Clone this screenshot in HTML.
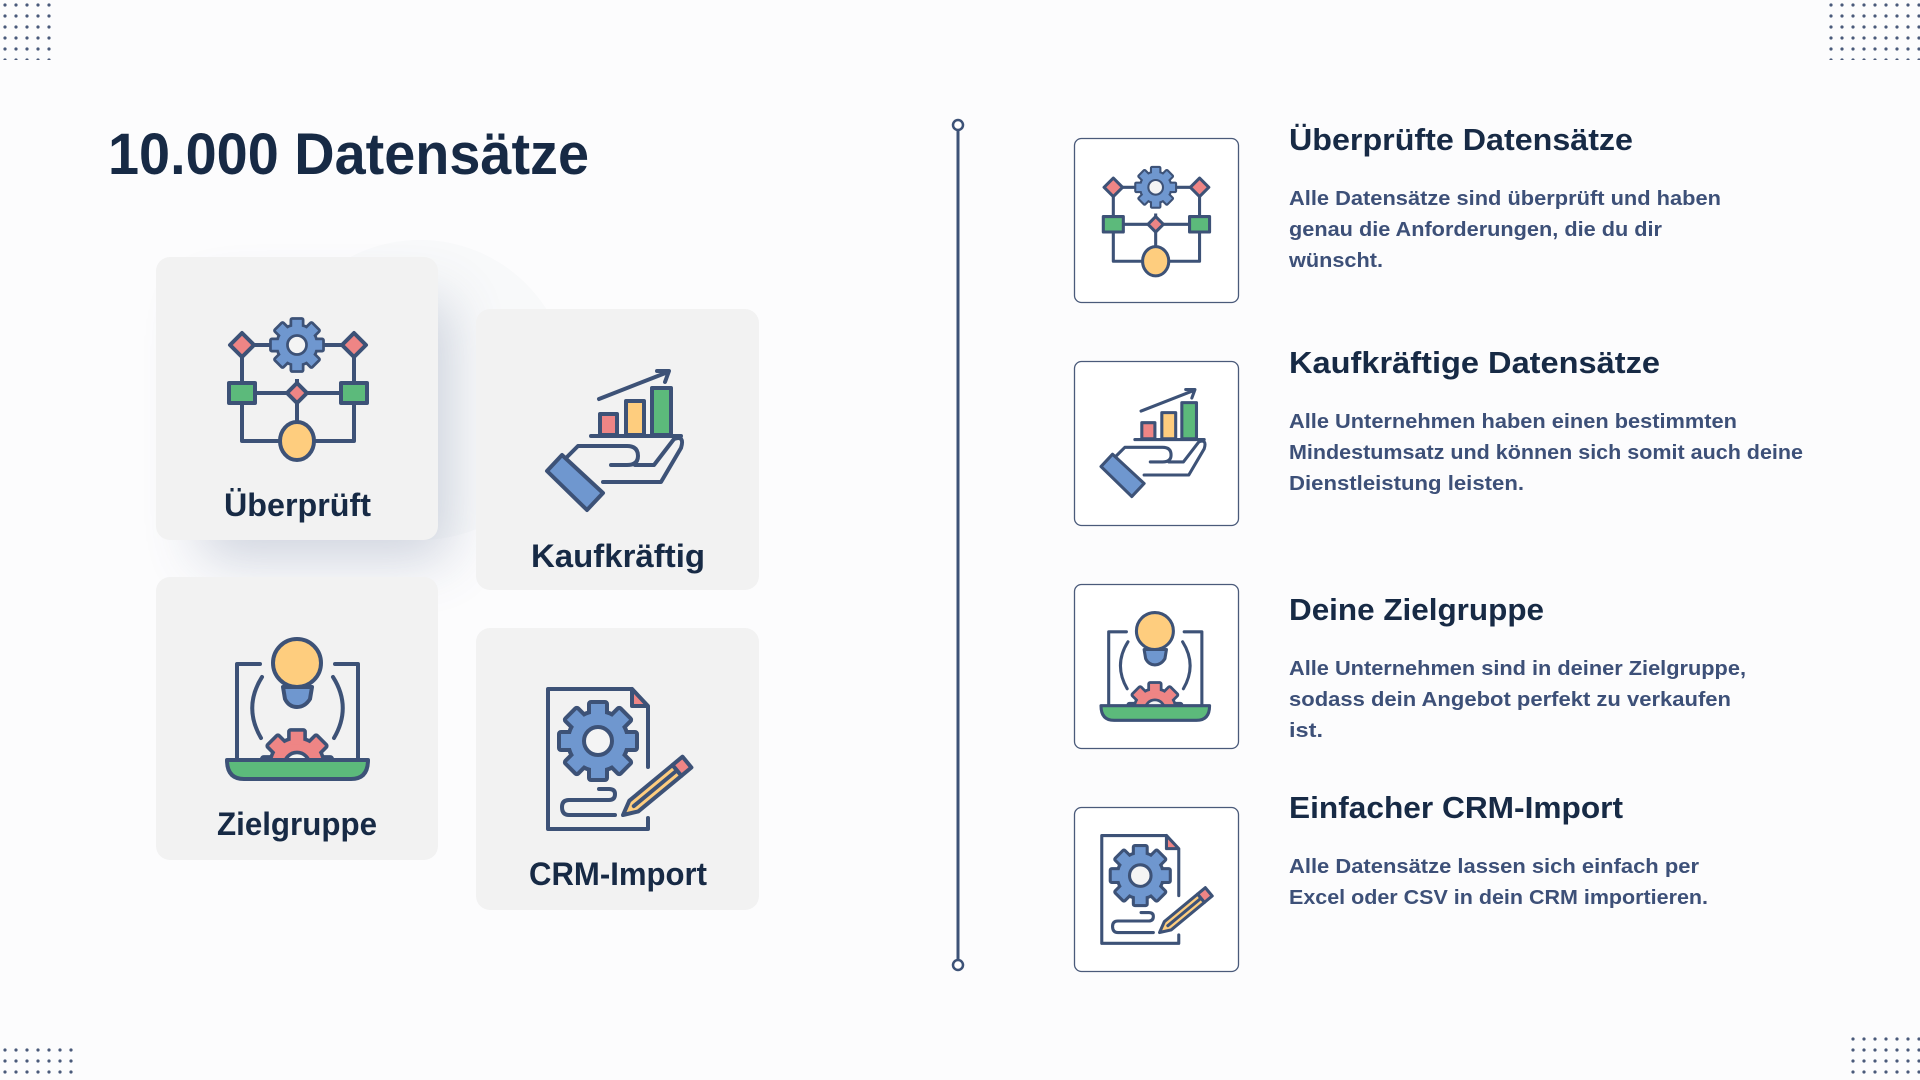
<!DOCTYPE html>
<html><head><meta charset="utf-8"><style>
html,body{margin:0;padding:0;background:#fcfcfd;}
svg{display:block;}
text{font-family:"Liberation Sans",sans-serif;font-weight:bold;}
</style></head><body>
<svg width="1920" height="1080" viewBox="0 0 1920 1080" xmlns="http://www.w3.org/2000/svg">
<defs>
<pattern id="dots" x="0" y="0" width="11" height="11" patternUnits="userSpaceOnUse"><circle cx="5" cy="5" r="1.6" fill="#4a5a7a"/></pattern>
<filter id="sh" x="-50%" y="-50%" width="200%" height="200%"><feGaussianBlur stdDeviation="28"/></filter>
<clipPath id="topclip"><rect x="0" y="0" width="141" height="124"/></clipPath>
<g id="gs">
<circle r="28"/>
<rect x="-7" y="-37" width="14" height="14"/>
<rect x="-7" y="-37" width="14" height="14" transform="rotate(45)"/>
<rect x="-7" y="-37" width="14" height="14" transform="rotate(90)"/>
<rect x="-7" y="-37" width="14" height="14" transform="rotate(135)"/>
<rect x="-7" y="-37" width="14" height="14" transform="rotate(180)"/>
<rect x="-7" y="-37" width="14" height="14" transform="rotate(225)"/>
<rect x="-7" y="-37" width="14" height="14" transform="rotate(270)"/>
<rect x="-7" y="-37" width="14" height="14" transform="rotate(315)"/>
</g>
<g id="gearB">
<use href="#gs" fill="#3d5277" stroke="#3d5277" stroke-width="8" stroke-linejoin="round"/>
<use href="#gs" fill="#6f97cf"/>
<circle r="14" fill="#f4f4f4" stroke="#3d5277" stroke-width="4"/>
</g>
<g id="gearP">
<use href="#gs" fill="#3d5277" stroke="#3d5277" stroke-width="8" stroke-linejoin="round"/>
<use href="#gs" fill="#ee8585"/>
<circle r="14" fill="#f4f4f4" stroke="#3d5277" stroke-width="4"/>
</g>
<g id="ic1" stroke="#3d5277" stroke-width="4" stroke-linejoin="round" fill="none">
<path d="M16 29 V125 H128 V29 M16 77 H128 M71 77 V125 M27 29 H44 M98 29 H117"/>
<path d="M71 63 V70"/>
<path d="M16 17 L28 29 L16 41 L4 29 Z" fill="#ee8585"/>
<path d="M128 17 L140 29 L128 41 L116 29 Z" fill="#ee8585"/>
<path d="M71 67 L81 77 L71 87 L61 77 Z" fill="#ee8585"/>
<rect x="3" y="67" width="26" height="20" fill="#5cba7b"/>
<rect x="115" y="67" width="26" height="20" fill="#5cba7b"/>
<ellipse cx="71" cy="125" rx="17" ry="19" fill="#fecd7e"/>
<g transform="translate(71,29) scale(0.68)" stroke="none"><use href="#gearB"/></g>
</g>
<g id="ic2" stroke="#3d5277" stroke-width="4" stroke-linejoin="round" stroke-linecap="round" fill="none">
<rect x="53" y="45" width="17" height="21" fill="#ee8585"/>
<rect x="79" y="32" width="18" height="34" fill="#fecd7e"/>
<rect x="105" y="19" width="19" height="47" fill="#5cba7b"/>
<path d="M44 67 H134"/>
<path d="M52 30 L121 3 M110 2 L122 2 L118 13"/>
<path d="M20 88 L31 77 H80 Q91 77 91 87 Q91 96 80 96 H64"/>
<path d="M56 113 H114 L134 79 Q138 66 127 70 L107 96 H88"/>
<path d="M0 102 L15 86 L56 124 L40 141 Z" fill="#6f97cf"/>
</g>
<g id="ic3" stroke="#3d5277" stroke-width="4" stroke-linejoin="round" stroke-linecap="round" fill="none">
<path d="M33 27 H10 V123 M108 27 H131 V123"/>
<path d="M35 40 Q16 70 34 101 M106 40 Q125 70 107 101"/>
<g clip-path="url(#topclip)"><g transform="translate(70,128) scale(0.9)" stroke="none"><use href="#gearP"/></g></g>
<path d="M0 123 H141 Q141 142 124 142 H17 Q0 142 0 123 Z" fill="#5cba7b"/>
<path d="M56 50 H85 L83 62 Q78 70 70 70 Q62 70 58 62 Z" fill="#6f97cf"/>
<circle cx="70" cy="26" r="24" fill="#fecd7e"/>
</g>
<g id="ic4" stroke="#3d5277" stroke-width="4" stroke-linejoin="round" stroke-linecap="round" fill="none">
<path d="M101 80 V20 L85 2 H1 V142 H101 V131"/>
<path d="M85 2 V19 H101 Z" fill="#ee8585"/>
<g transform="translate(51,54)" stroke="none"><use href="#gearB"/></g>
<path d="M52 102 H62 Q68 102 68 107 Q68 113 62 113 H22 Q15 113 15 120 Q15 128 22 128 H68"/>
<g transform="translate(76,128) rotate(-39.6)">
<path d="M0 0 L14 -7 H70 V7 H14 Z" fill="#fecd7e"/>
<path d="M14 0 H70"/>
<rect x="70" y="-7" width="13" height="14" fill="#ee8585"/>
</g>
</g>
</defs>

<rect x="0" y="0" width="52" height="60" fill="url(#dots)"/>
<rect x="1826" y="0" width="94" height="60" fill="url(#dots)"/>
<rect x="0" y="1045" width="74" height="35" fill="url(#dots)"/>
<rect x="1846" y="1034" width="74" height="46" fill="url(#dots)"/>

<text x="108" y="174" font-size="58" fill="#172a45" textLength="481" lengthAdjust="spacingAndGlyphs">10.000 Datensätze</text>

<circle cx="420" cy="390" r="150" fill="#f4f5f7" opacity="0.5"/>
<rect x="200" y="300" width="250" height="260" rx="14" fill="#5a6c90" opacity="0.28" filter="url(#sh)"/>
<rect x="156" y="257" width="282" height="283" rx="14" fill="#f2f2f2"/>
<rect x="476" y="309" width="283" height="281" rx="14" fill="#f2f2f2"/>
<rect x="156" y="577" width="282" height="283" rx="14" fill="#f2f2f2"/>
<rect x="476" y="628" width="283" height="282" rx="14" fill="#f2f2f2"/>

<use href="#ic1" x="226" y="316"/>
<use href="#ic2" x="547" y="369"/>
<use href="#ic3" x="227" y="637"/>
<use href="#ic4" x="547" y="687"/>

<g font-size="32" fill="#172a45">
<text x="224" y="516" textLength="147" lengthAdjust="spacingAndGlyphs">Überprüft</text>
<text x="531" y="567" textLength="174" lengthAdjust="spacingAndGlyphs">Kaufkräftig</text>
<text x="217" y="835" textLength="160" lengthAdjust="spacingAndGlyphs">Zielgruppe</text>
<text x="529" y="885" textLength="178" lengthAdjust="spacingAndGlyphs">CRM-Import</text>
</g>

<line x1="958" y1="130" x2="958" y2="960" stroke="#3d5277" stroke-width="3"/>
<circle cx="958" cy="125" r="5" fill="#fff" stroke="#3d5277" stroke-width="2.5"/>
<circle cx="958" cy="965" r="5" fill="#fff" stroke="#3d5277" stroke-width="2.5"/>

<g fill="#fff" stroke="#4a5a7a" stroke-width="1.3">
<rect x="1074.5" y="138.5" width="164" height="164" rx="7"/>
<rect x="1074.5" y="361.5" width="164" height="164" rx="7"/>
<rect x="1074.5" y="584.5" width="164" height="164" rx="7"/>
<rect x="1074.5" y="807.5" width="164" height="164" rx="7"/>
</g>
<use href="#ic1" transform="translate(1101,165) scale(0.77)"/>
<use href="#ic2" transform="translate(1101,388) scale(0.77)"/>
<use href="#ic3" transform="translate(1101,611) scale(0.77)"/>
<use href="#ic4" transform="translate(1101,834) scale(0.77)"/>

<g font-size="31" fill="#172a45">
<text x="1289" y="150" textLength="344" lengthAdjust="spacingAndGlyphs">Überprüfte Datensätze</text>
<text x="1289" y="373" textLength="371" lengthAdjust="spacingAndGlyphs">Kaufkräftige Datensätze</text>
<text x="1289" y="620" textLength="255" lengthAdjust="spacingAndGlyphs">Deine Zielgruppe</text>
<text x="1289" y="818" textLength="334" lengthAdjust="spacingAndGlyphs">Einfacher CRM-Import</text>
</g>
<g font-size="20" fill="#3d5078">
<text x="1289" y="205" textLength="432" lengthAdjust="spacingAndGlyphs">Alle Datensätze sind überprüft und haben</text>
<text x="1289" y="236" textLength="373" lengthAdjust="spacingAndGlyphs">genau die Anforderungen, die du dir</text>
<text x="1289" y="267" textLength="94" lengthAdjust="spacingAndGlyphs">wünscht.</text>
<text x="1289" y="428" textLength="448" lengthAdjust="spacingAndGlyphs">Alle Unternehmen haben einen bestimmten</text>
<text x="1289" y="459" textLength="514" lengthAdjust="spacingAndGlyphs">Mindestumsatz und können sich somit auch deine</text>
<text x="1289" y="490" textLength="235" lengthAdjust="spacingAndGlyphs">Dienstleistung leisten.</text>
<text x="1289" y="675" textLength="457" lengthAdjust="spacingAndGlyphs">Alle Unternehmen sind in deiner Zielgruppe,</text>
<text x="1289" y="706" textLength="442" lengthAdjust="spacingAndGlyphs">sodass dein Angebot perfekt zu verkaufen</text>
<text x="1289" y="737" textLength="34" lengthAdjust="spacingAndGlyphs">ist.</text>
<text x="1289" y="873" textLength="410" lengthAdjust="spacingAndGlyphs">Alle Datensätze lassen sich einfach per</text>
<text x="1289" y="904" textLength="419" lengthAdjust="spacingAndGlyphs">Excel oder CSV in dein CRM importieren.</text>
</g>
</svg>
</body></html>
